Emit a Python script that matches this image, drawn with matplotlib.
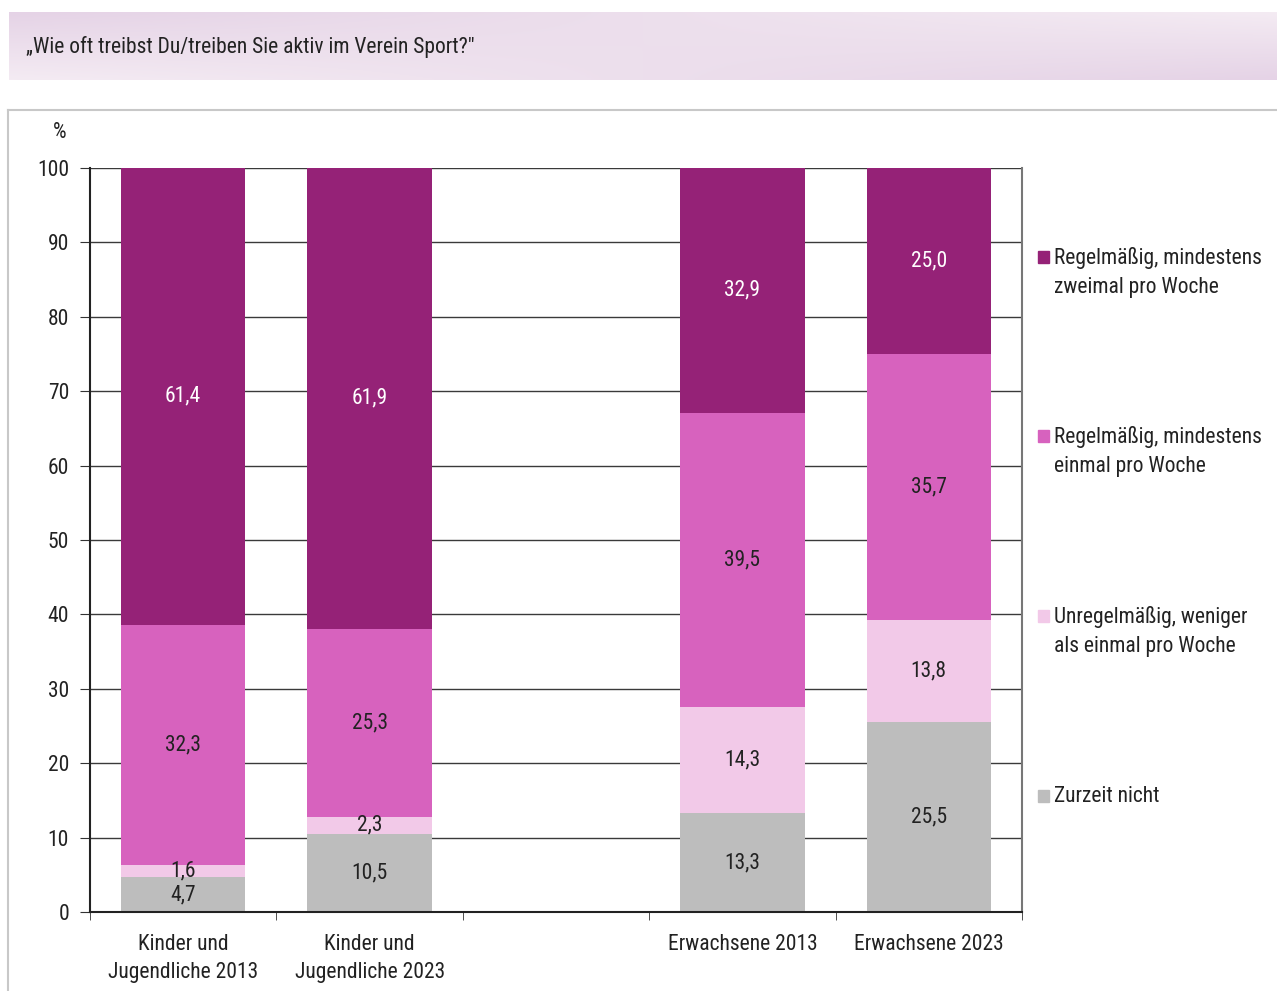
import matplotlib.pyplot as plt
import numpy as np
from matplotlib.patches import Rectangle
from matplotlib.lines import Line2D

plt.rcParams['font.family'] = ['Roboto Condensed', 'DejaVu Sans']

categories = ['Kinder und\nJugendliche 2013', 'Kinder und\nJugendliche 2023',
              'Erwachsene 2013', 'Erwachsene 2023']
positions = [0, 1, 3, 4]
series_names = ['Zurzeit nicht',
                'Unregelmäßig, weniger\nals einmal pro Woche',
                'Regelmäßig, mindestens\neinmal pro Woche',
                'Regelmäßig, mindestens\nzweimal pro Woche']
zurzeit_nicht = [4.7, 10.5, 13.3, 25.5]
unregelmaessig = [1.6, 2.3, 14.3, 13.8]
einmal = [32.3, 25.3, 39.5, 35.7]
zweimal = [61.4, 61.9, 32.9, 25.0]
series = [zurzeit_nicht, unregelmaessig, einmal, zweimal]
colors = ['#bdbdbd', '#f2c9e8', '#d762be', '#952277']
text_colors = ['#222222', '#222222', '#222222', 'white']
title = '„Wie oft treibst Du/treiben Sie aktiv im Verein Sport?"'

W, H = 1277, 991
FS = 15.5
fig = plt.figure(figsize=(W / 100, H / 100), dpi=100)

# title band with soft gradient
band = fig.add_axes([9 / W, 1 - 80 / H, (W - 9) / W, 68 / H])
xx, yy = np.meshgrid(np.linspace(0, 1, 200), np.linspace(0, 1, 40))
t = (1 - xx) * (1 - yy) + xx * yy
dark = np.array([0.898, 0.827, 0.902])
light = np.array([0.957, 0.922, 0.953])
img = light + (dark - light) * t[..., None]
band.imshow(img, aspect='auto', extent=[0, 1, 0, 1])
band.set_axis_off()
fig.text(26 / W, 1 - 47 / H, title, fontsize=FS, color='#222222', va='center', ha='left')

# panel border
fig.add_artist(Line2D([8 / W, 1], [1 - 110 / H, 1 - 110 / H], color='#c8c8c8', lw=1.5))
fig.add_artist(Line2D([8 / W, 8 / W], [0, 1 - 110 / H], color='#c8c8c8', lw=1.5))

ax = fig.add_axes([90 / W, 1 - 912 / H, (1022 - 90) / W, (912 - 168) / H])
ax.set_xlim(-0.5, 4.5)
ax.set_ylim(0, 100)
ax.set_yticks(np.arange(0, 101, 10))
ax.yaxis.grid(True, color='#3a3a3a', lw=1)
ax.set_axisbelow(True)

bottom = np.zeros(len(positions))
for vals, col, tc in zip(series, colors, text_colors):
    ax.bar(positions, vals, width=0.667, bottom=bottom, color=col, zorder=2)
    for x, b, v in zip(positions, bottom, vals):
        ax.text(x, b + v / 2, f'{v:.1f}'.replace('.', ','), ha='center', va='center',
                fontsize=FS, color=tc, zorder=3)
    bottom += vals

ax.set_xticks(positions)
ax.set_xticklabels(categories, fontsize=FS, color='#222222', linespacing=1.45)
ax.tick_params(axis='x', length=0, pad=16)
ax.set_xticks(np.arange(-0.5, 4.6, 1), minor=True)
ax.tick_params(axis='x', which='minor', length=6, direction='out', color='#333333')
ax.tick_params(axis='y', labelsize=FS, labelcolor='#222222', length=7, color='#333333', pad=8)
for s in ['left', 'bottom']:
    ax.spines[s].set_color('#222222')
    ax.spines[s].set_linewidth(1.5)
ax.spines['right'].set_color('#777777')
ax.spines['right'].set_linewidth(1.5)
ax.spines['top'].set_visible(False)

fig.text(60 / W, 1 - 132 / H, '%', fontsize=FS, color='#222222', ha='center', va='center')

# legend, top entry first
legend_y = [257, 436, 616, 796]
for name, col, y in zip(series_names[::-1], colors[::-1], legend_y):
    fig.add_artist(Rectangle((1038 / W, 1 - (y + 6) / H), 11 / W, 12 / H,
                             transform=fig.transFigure, color=col))
    fig.text(1054 / W, 1 - (y - 10) / H, name, fontsize=FS, color='#222222',
             va='top', ha='left', linespacing=1.5)

fig.savefig('out.png', dpi=100)
